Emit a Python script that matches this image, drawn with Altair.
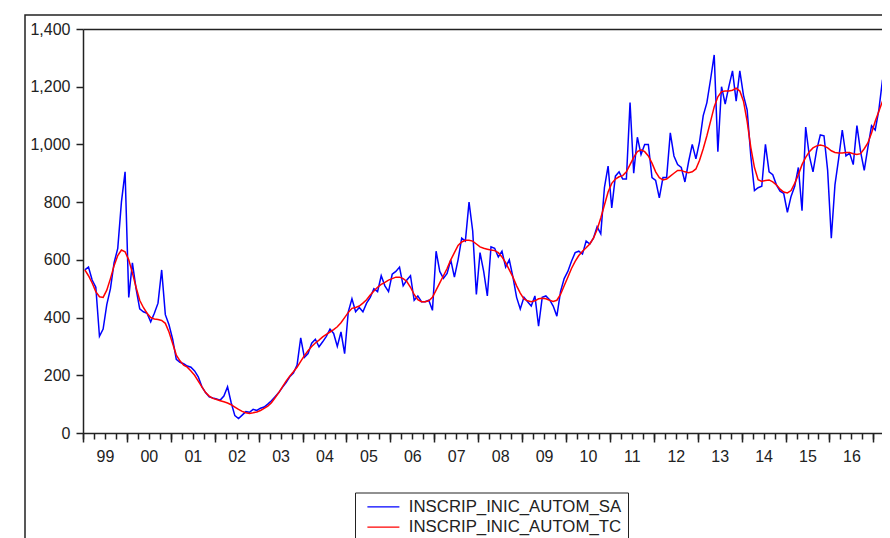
import altair as alt
import pandas as pd

# Monthly data, 1999M01 .. 2017M06
start_year = 1999
sa = [
    565, 575, 530, 505, 335, 360, 445, 500, 590, 640, 800, 905,   # 1999
    470, 590, 500, 430, 420, 415, 385, 415, 450, 565, 410, 375,   # 2000
    325, 255, 245, 240, 232, 228, 215, 195, 160, 140, 125, 121,   # 2001
    118, 114, 128, 160, 105, 60, 50, 62, 74, 72, 82, 78,          # 2002
    86, 90, 100, 112, 126, 140, 158, 175, 195, 208, 235, 330,     # 2003
    262, 275, 311, 325, 299, 316, 335, 360, 345, 300, 350, 275,   # 2004
    420, 465, 420, 435, 420, 450, 470, 500, 490, 545, 510, 490,   # 2005
    550, 560, 575, 510, 530, 545, 460, 475, 455, 455, 460, 425,   # 2006
    630, 560, 536, 553, 600, 540, 600, 675, 665, 800, 700, 480,   # 2007
    625, 560, 475, 645, 640, 610, 630, 575, 600, 540, 470, 430,   # 2008
    470, 455, 440, 475, 370, 470, 475, 462, 440, 405, 490, 535,   # 2009
    560, 595, 625, 630, 620, 665, 655, 675, 715, 690, 850, 925,   # 2010
    780, 890, 905, 880, 880, 1145, 900, 1025, 965, 1000, 1000, 885,   # 2011
    875, 815, 885, 885, 1040, 960, 930, 920, 870, 940, 1000, 950,     # 2012
    1010, 1100, 1145, 1225, 1310, 975, 1200, 1140, 1200, 1255, 1150, 1255,  # 2013
    1170, 1120, 960, 840, 850, 855, 1000, 905, 895, 860, 838, 830,    # 2014
    765, 820, 855, 920, 770, 1060, 960, 905, 980, 1033, 1030, 910,    # 2015
    675, 860, 950, 1050, 960, 970, 930, 1065, 975, 910, 990, 1065,    # 2016
    1050, 1120, 1225, 1070, 1250, 1280,                              # 2017
]
tc = [
    565, 545, 520, 490, 472, 470, 495, 535, 580, 615, 634, 628,
    600, 555, 505, 460, 435, 415, 400, 395, 393, 390, 380, 350,
    310, 270, 250, 235, 228, 215, 200, 180, 160, 140, 128, 120,
    116, 112, 108, 104, 98, 90, 82, 75, 70, 68, 70, 73,
    78, 85, 93, 105, 122, 140, 160, 180, 197, 212, 228, 248,
    268, 285, 300, 312, 322, 333, 342, 350, 358, 368, 382, 400,
    418, 432, 435, 440, 450, 462, 478, 492, 505, 515, 522, 530,
    535, 540, 540, 535, 525, 505, 480, 462, 455, 455, 458, 470,
    495, 520, 545, 570, 600, 625, 650, 662, 668, 668, 665, 655,
    645, 640, 637, 634, 632, 625, 610, 590, 565, 540, 510, 485,
    465, 458, 455, 458, 465, 467, 465, 460, 456, 460, 480, 510,
    540, 570, 595, 615, 630, 642, 655, 675, 705, 745, 790, 835,
    865, 880, 888, 892, 905, 930, 955, 975, 981, 975, 960, 935,
    905, 885, 877, 880, 890, 900, 910, 910, 905, 902, 905, 915,
    945, 985, 1030, 1080, 1130, 1165, 1183, 1185, 1185, 1188, 1195, 1185,
    1150, 1080, 990, 920, 878, 872, 875, 877, 870, 860, 845, 835,
    832, 840, 865, 895, 930, 955, 975, 988, 995, 998, 995, 988,
    978, 972, 970, 970, 972, 972, 968, 965, 968, 985, 1005, 1040,
    1080, 1115, 1150, 1185, 1210, 1235,
]
series_names = ["INSCRIP_INIC_AUTOM_SA", "INSCRIP_INIC_AUTOM_TC"]
series_colors = ["#0000ff", "#ff0000"]
y_ticks = [0, 200, 400, 600, 800, 1000, 1200, 1400]
year_starts = list(range(1999, 2018))
quarter_ticks = [y + q / 4 for y in range(1999, 2018) for q in range(4)]
year_label_pos = [y + 0.5 for y in range(1999, 2018)]

rows = []
for name, vals in zip(series_names, [sa, tc]):
    for i, v in enumerate(vals):
        t = start_year + i / 12 + 1 / 24
        rows.append({"t": t, "v": v, "series": name})
df = pd.DataFrame(rows)

FONT = "Arial, Liberation Sans"
TXT = "#222222"
PLOT_W = 799
x_dom = [1999, 1999 + PLOT_W / 43.91]

yaxis = alt.Axis(values=y_ticks, format=",d", title=None, grid=False,
                 tickSize=7, tickWidth=1.5, tickColor=TXT,
                 domainColor=TXT, domainWidth=1.5,
                 labelFont=FONT, labelFontSize=16, labelColor=TXT, labelPadding=6)
yenc = alt.Y("v:Q", scale=alt.Scale(domain=[0, 1400], nice=False), axis=yaxis)


def xenc(axis):
    return alt.X("t:Q", scale=alt.Scale(domain=x_dom, nice=False, zero=False), axis=axis)


lines = alt.Chart(df).mark_line(strokeWidth=1.5, clip=True).encode(
    x=xenc(alt.Axis(orient="bottom", values=quarter_ticks, labels=False, title=None,
                    grid=False, tickSize=6, tickWidth=1.5, tickColor=TXT,
                    domainColor=TXT, domainWidth=1.5)),
    y=yenc,
    color=alt.Color("series:N",
                    scale=alt.Scale(domain=series_names, range=series_colors),
                    legend=alt.Legend(orient="none", legendX=272, legendY=463.5,
                                      title=None, symbolType="M-4,0H4",
                                      symbolSize=64, symbolStrokeWidth=1.3,
                                      labelFont=FONT, labelFontSize=16.8, labelColor=TXT,
                                      labelLimit=0,
                                      strokeColor=TXT, padding=6, rowPadding=2.3,
                                      labelOffset=17, symbolOffset=14)),
)

major = alt.Chart(df).mark_line(opacity=0).encode(
    x=xenc(alt.Axis(orient="bottom", values=year_starts, labels=False, title=None,
                    grid=False, domain=False, tickSize=9, tickWidth=1.5, tickColor=TXT)),
    y=yenc,
)

labels = alt.Chart(df).mark_line(opacity=0).encode(
    x=xenc(alt.Axis(orient="bottom", values=year_label_pos, title=None, grid=False,
                    domain=False, ticks=False, labelPadding=15,
                    labelExpr="substring(toString(floor(datum.value)), 2)",
                    labelFont=FONT, labelFontSize=16, labelColor=TXT)),
    y=yenc,
)

top = alt.Chart(df).mark_line(opacity=0).encode(
    x=xenc(alt.Axis(orient="top", labels=False, ticks=False, title=None, grid=False,
                    domainColor=TXT, domainWidth=1.5)),
    y=yenc,
)

frame = alt.Chart(pd.DataFrame({"k": [0]})).mark_rect(
    filled=False, stroke=TXT, strokeWidth=1.5, clip=False
).encode(
    x=alt.value(-58), x2=alt.value(1000), y=alt.value(-14), y2=alt.value(1000)
)

chart = alt.layer(frame, lines, major, labels, top).resolve_axis(x="independent").properties(
    width=PLOT_W, height=404,
    padding={"left": 75, "top": 21, "right": 0, "bottom": 105},
    autosize=alt.AutoSizeParams(type="none"),
).configure_view(stroke=None).configure(background="white")

chart.save("out.html", embed_options={"renderer": "svg", "actions": False})
